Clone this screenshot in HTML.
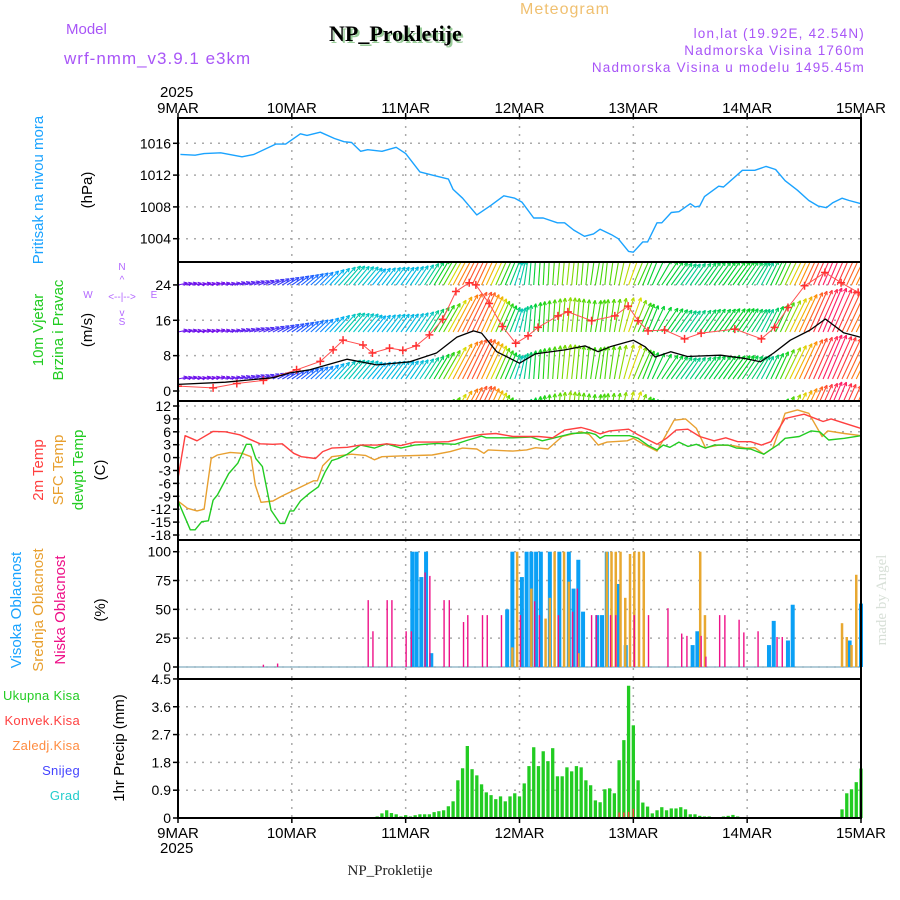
<!DOCTYPE html>
<html><head><meta charset="utf-8"><title>Meteogram NP_Prokletije</title>
<style>
html,body{margin:0;padding:0;background:#fff;}
svg{display:block;font-family:"Liberation Sans",sans-serif;}
</style></head>
<body>
<svg id="chart" width="900" height="900" viewBox="0 0 900 900" xmlns="http://www.w3.org/2000/svg">
<defs>
<clipPath id="clipWind"><rect x="178" y="263" width="683" height="137"/></clipPath>
</defs>
<rect width="900" height="900" fill="#fff"/>
<g font-family="Liberation Sans, sans-serif">
<text x="66" y="34" font-size="15" fill="#a855f7">Model</text>
<text x="64" y="64" font-size="17" fill="#a855f7" letter-spacing="1">wrf-nmm_v3.9.1 e3km</text>
<text x="331" y="43" font-family="Liberation Serif, serif" font-weight="bold" font-size="22" fill="#9c9">NP_Prokletije</text>
<text x="329" y="41" font-family="Liberation Serif, serif" font-weight="bold" font-size="22" fill="#000">NP_Prokletije</text>
<text x="520" y="14" font-size="16" fill="#f0c070" letter-spacing="1">Meteogram</text>
<text x="865" y="38" font-size="13.5" fill="#a855f7" text-anchor="end" letter-spacing="1.2">lon,lat (19.92E, 42.54N)</text>
<text x="865" y="55" font-size="13.5" fill="#a855f7" text-anchor="end" letter-spacing="1.2">Nadmorska Visina 1760m</text>
<text x="865" y="72" font-size="13.5" fill="#a855f7" text-anchor="end" letter-spacing="1.2">Nadmorska Visina u modelu 1495.45m</text>
</g>
<g id="grid"></g>
<g id="marks"></g>
<g id="frames"></g>
<g id="labels" font-size="14" fill="#000"></g>
<g font-size="15">
<text transform="translate(43,190) rotate(-90)" text-anchor="middle" fill="#1aa3ff">Pritisak na nivou mora</text>
<text transform="translate(92,190) rotate(-90)" text-anchor="middle" fill="#000">(hPa)</text>
<text transform="translate(43,330) rotate(-90)" text-anchor="middle" fill="#22cc22">10m Vjetar</text>
<text transform="translate(63,330) rotate(-90)" text-anchor="middle" fill="#22cc22">Brzina i Pravac</text>
<text transform="translate(92,330) rotate(-90)" text-anchor="middle" fill="#000">(m/s)</text>
<g font-size="10" fill="#b266ff" text-anchor="middle">
<text x="122" y="270">N</text><text x="122" y="283">^</text><text x="122" y="300">&lt;--|--&gt;</text><text x="122" y="316">v</text><text x="122" y="325">S</text>
<text x="88" y="298">W</text><text x="154" y="298">E</text>
</g>
<text transform="translate(43,470) rotate(-90)" text-anchor="middle" fill="#ff4040">2m Temp</text>
<text transform="translate(63,470) rotate(-90)" text-anchor="middle" fill="#e8a030">SFC Temp</text>
<text transform="translate(83,470) rotate(-90)" text-anchor="middle" fill="#22cc22">dewpt Temp</text>
<text transform="translate(105,470) rotate(-90)" text-anchor="middle" fill="#000">(C)</text>
<text transform="translate(21,610) rotate(-90)" text-anchor="middle" fill="#1aa3ff">Visoka Oblacnost</text>
<text transform="translate(43,610) rotate(-90)" text-anchor="middle" fill="#e8a030">Srednja Oblacnost</text>
<text transform="translate(65,610) rotate(-90)" text-anchor="middle" fill="#ee1188">Niska Oblacnost</text>
<text transform="translate(105,610) rotate(-90)" text-anchor="middle" fill="#000">(%)</text>
<g font-size="13" letter-spacing="0.3">
<text x="80" y="700" text-anchor="end" fill="#22cc22">Ukupna Kisa</text>
<text x="80" y="725" text-anchor="end" fill="#ff4040">Konvek.Kisa</text>
<text x="80" y="750" text-anchor="end" fill="#ff8c40">Zaledj.Kisa</text>
<text x="80" y="775" text-anchor="end" fill="#4444ff">Snijeg</text>
<text x="80" y="800" text-anchor="end" fill="#22cccc">Grad</text>
</g>
<text transform="translate(124,748) rotate(-90)" text-anchor="middle" fill="#000">1hr Precip (mm)</text>
</g>
<text transform="translate(886,600) rotate(-90)" text-anchor="middle" font-family="Liberation Serif, serif" font-size="15" fill="#d8e0d8">made by Angel</text>
<text x="390" y="875" text-anchor="middle" font-family="Liberation Serif, serif" font-size="15" fill="#222">NP_Prokletije</text>

<script>
// ---------- DATA ----------
const days = ["9MAR","10MAR","11MAR","12MAR","13MAR","14MAR","15MAR"];
const pressureTicks = [1016,1012,1008,1004];
const windTicks = [0,8,16,24];
const tempTicks = [12,9,6,3,0,-3,-6,-9,-12,-15,-18];
const cloudTicks = [0,25,50,75,100];
const precipTicks = [0,0.9,1.8,2.7,3.6,4.5];

const pressureHours = [0.5,3.6,5.5,9,13.5,16,20.6,22.7,25.8,27.2,30,33,35,36.6,38.5,40,43,46,48,51,53.6,57,58,60,63,66,68.7,71,72.5,75,77,80,81.5,83.4,85.7,87.6,89,91.4,92.8,95,96,98,99,101,102,104,105.6,108,109,110,111,114,115,119,121.6,124,126,128,130.6,133,135,136.7,138,140,141.5,144];
const pressure = [1014.6,1014.5,1014.7,1014.8,1014.3,1014.6,1015.9,1015.9,1017.2,1017.0,1017.4,1016.6,1016.2,1016.1,1015.0,1015.2,1015.0,1015.5,1014.7,1012.4,1012.0,1011.5,1010.2,1009.1,1007.0,1008.2,1009.4,1009.1,1008.6,1006.6,1006.6,1006.0,1006.0,1005.1,1004.3,1004.6,1005.2,1004.5,1004.0,1002.4,1002.3,1003.6,1003.6,1006.0,1006.0,1007.3,1007.4,1008.4,1008.0,1008.1,1009.3,1010.6,1010.5,1012.6,1012.6,1013.1,1012.7,1011.3,1010.1,1008.8,1008.1,1007.9,1008.5,1009.1,1008.8,1008.4];

const speedHours = [0,10,20,23.6,27.8,35.6,41.9,48.9,54.5,58.8,62.3,64,67.2,72,75.3,81.6,85.8,88.6,91.1,96,98.5,100.6,103.9,107.4,114.4,119.3,122.8,125.6,129.1,133.3,136.5,140.3,143.8];
const windSpeed = [1.5,2,3,4.1,4.8,7.2,5.9,6.6,8.6,12.2,13.6,13.1,8.9,6.3,8.4,9.3,10.2,8.9,10.0,11.5,10.0,7.7,8.9,7.8,8.1,7.4,6.6,8.6,11.5,13.8,16.3,13.2,12.2];

const gustHours = [0,7.4,12.4,18,25,30,32.7,34.8,39,41,44.6,47.4,50.2,53,55.8,58.6,61.4,62.8,65.6,68.4,71.2,73.8,75.9,80.1,82.2,87.2,92.1,94.9,97,99.1,102.6,106.8,110.3,117.4,123,125.8,128.6,132.1,136.4,139.8,143.4];
const windGust = [1.1,0.7,1.7,2.4,4.8,6.7,9.3,11.5,10.4,8.6,9.7,9.2,10.2,12.7,16.2,22.5,24.5,24.0,19.8,14.6,10.8,12.5,14.4,17.0,17.9,15.9,17.0,19.2,15.9,13.6,13.8,11.8,13.1,14.0,11.8,14.4,18.9,23.8,26.8,24.5,22.3];

// arrow direction (degrees clockwise from up), hourly h0..h144
const windDir = [78,80,78,80,82,78,80,78,76,78,80,78,76,75,74,72,70,70,68,66,64,62,60,58,56,54,52,50,48,46,45,44,43,42,42,41,40,40,40,40,40,39,38,38,38,37,36,36,35,35,34,34,33,32,31,30,30,29,28,28,27,26,26,25,25,25,25,24,24,23,22,18,14,8,5,4,4,3,3,4,5,5,6,6,5,5,6,8,10,8,6,8,10,12,16,20,22,24,22,22,25,30,34,35,36,36,36,35,35,36,36,35,35,36,36,35,36,36,35,34,34,33,30,28,27,26,25,25,26,26,26,25,25,24,24,24,23,23,24,24,25,25,26,26,27];

const tempHours2m = [0,1.5,4,7.4,10,13,17.3,20,22,24.4,26,29,30.5,32.4,35.7,38.5,42,44,47,50,54.6,57,60.7,64,67,70.6,73.5,76,79,81.5,85,87,89,91,95,97,101,103,105,107.5,110,113,115.5,118,120.7,123,125,128,132,136,137.7,140.5,144];
const temp2m = [-4.8,5.1,3.9,6.1,6.0,5.3,3.2,3.1,3.2,1.0,0.2,-0.2,1.4,2.2,2.4,2.9,2.9,3.2,2.8,3.6,3.6,3.7,4.7,5.4,5.6,4.9,4.9,4.9,4.6,6.4,7.0,6.4,5.5,6.2,6.6,5.3,3.1,4.5,6.4,6.6,4.9,3.9,4.6,3.7,3.7,2.9,3.7,9.1,10.1,8.4,9.0,8.0,6.8];

const tempHoursSfc = [0,2,4,5.5,7,8.3,11,13.5,15.4,16.3,17.5,20,22,25,26.7,28.6,29.4,30.5,32.4,36.6,39.5,41.4,43,47,53.6,57.4,60,63,64.5,65.4,70.6,73.5,75.4,78,81,85,86.7,88.6,90.5,94.7,96,98.5,101,104.6,107,109.3,111.2,114,117,119.7,121.6,123.5,125.4,128,130.6,133,135.8,137,140.5,144];
const tempSfc = [-10.1,-11.8,-12.4,-12.0,-0.2,0.6,1.2,1.0,0.2,-6.4,-10.4,-10.1,-8.9,-7.3,-6.4,-5.4,-5.4,-1.9,0.2,0.8,0.5,-0.5,0.2,0.4,0.6,1.4,2.2,2.0,1.0,1.8,1.5,1.8,2.3,2.0,4.9,6.0,5.4,2.9,3.6,3.9,4.5,2.9,1.5,8.7,9.0,6.8,2.3,2.9,2.8,2.2,2.3,0.8,2.2,10.3,11.1,10.3,4.9,6.2,5.6,5.1];

const tempHoursDew = [0,2.6,3.6,5,6.4,7.4,8.3,10.7,12.6,14.4,15.4,16.4,17.8,19.6,21.5,22.5,23.6,24.4,25.8,27.7,29.6,31,32.4,33.8,35.7,38.5,41.4,44,47,49.9,54.6,58.4,61.2,64,65,70.6,74.4,76.8,79,83,86.7,88,89,90,95.2,97,99,101,102.3,103.7,105.6,107.5,109.3,111.2,113,116,117.8,120.7,123.5,126.4,128,131,133.5,135.3,137.2,140.5,144];
const tempDew = [-10.1,-16.8,-16.8,-14.9,-14.7,-9.9,-8.7,-3.7,-1.3,3.1,3.1,-0.2,-2.1,-12.2,-15.3,-15.3,-12.4,-12.4,-10.1,-8.3,-6.8,-3.4,-0.7,-0.2,0.8,2.9,2.2,3.2,2.2,2.9,3.3,3.1,4.1,5.0,4.6,4.6,4.8,3.9,4.5,5.6,5.8,5.4,4.5,5.1,5.1,4.5,2.9,1.8,2.9,2.4,3.6,2.6,3.1,2.2,2.9,2.9,2.2,2.0,0.8,2.9,4.5,4.9,6.2,6.0,4.1,4.5,5.1];

const highCloudHours = [49.4,50.3,51.3,52.3,53.4,69.4,70.5,72.5,73.5,74.5,75.5,76.5,78.4,80.4,82.4,83.4,84.4,85.4,88.4,89.4,90.4,92.7,94.4,108.5,109.5,124.6,125.6,128.6,129.6,141.6,144];
const highCloud = [100,100,78,100,12,50,100,78,100,100,100,100,100,100,100,68,93,48,45,45,100,72,19,19,31,19,40,23,54,23,55];
const midCloudHours = [70.5,71.5,74.5,77.5,78.4,79.4,81.4,82.4,84.4,90.4,91.4,92.3,93.3,94.3,95.3,96.2,97.2,98.2,110.1,111.1,140,141,142,143];
const midCloud = [17,100,68,42,60,100,100,74,12,100,100,100,100,60,98,100,100,100,100,45,38,26,19,80];
const lowCloudHours = [18,21,40.1,41.1,44.1,45.1,48.1,49.2,52.1,53.1,56.1,57.2,60.2,61.1,64.2,65.2,68.2,72.2,75.2,76.2,80.2,83.2,84.2,87.2,88.2,91.2,92.3,96.2,99.2,103.3,106.2,107.3,110.3,111.3,114.2,115.3,118.3,119.3,122.3,126.3,127.4];
const lowCloud = [2,3,58,31,58,58,31,31,82,79,58,58,39,45,45,45,45,45,57,45,45,48,68,45,45,45,45,45,45,51,29,27,27,9,45,45,41,30,31,26,26];

const precipHours = [42,43,44,45,46,47,48,49,50,51,52,53,54,55,56,57,58,59,60,61,62,63,64,65,66,67,68,69,70,71,72,73,74,75,76,77,78,79,80,81,82,83,84,85,86,87,88,89,90,91,92,93,94,95,96,97,98,99,100,101,102,103,104,105,106,107,108,109,110,111,112,115,116,117,118,140,141,142,143,144];
const precipTotal = [0.05,0.15,0.25,0.16,0.12,0.05,0.09,0.05,0.09,0.12,0.12,0.12,0.19,0.22,0.25,0.38,0.54,1.22,1.61,2.33,1.58,1.38,1.09,0.83,0.74,0.61,0.70,0.54,0.70,0.80,0.70,1.12,1.68,2.29,1.68,2.16,1.84,2.26,1.35,1.35,1.64,1.51,1.68,1.64,1.22,1.06,0.57,0.51,0.93,0.96,0.80,1.87,2.52,4.28,3.0,1.22,0.50,0.37,0.15,0.25,0.35,0.25,0.31,0.31,0.35,0.28,0.12,0.12,0.07,0.05,0.05,0.05,0.07,0.10,0.05,0.28,0.80,0.93,1.16,1.60];
const convHours = [93,94,95,96];
const convPrecip = [0.18,0.18,0.2,0.3];

// ---------- AXES ----------
const X0 = 178, X1 = 861;
const NS = "http://www.w3.org/2000/svg";
const xOf = h => X0 + h * (X1 - X0) / 144;
const yP = p => 143.3 + (1016 - p) * 7.95;
const yW = v => 391 - v * 4.42;
const yT = t => 406 + (12 - t) * 4.3;
const yC = c => 667 - c * 1.153;
const yR = r => 818 - r * 30.9;
const panels = [[118,262],[262,401],[401,540],[540,679],[679,818]];

function el(tag, attrs, parent) {
  const e = document.createElementNS(NS, tag);
  for (const k in attrs) e.setAttribute(k, attrs[k]);
  parent.appendChild(e);
  return e;
}
const grid = document.getElementById('grid');
const marks = document.getElementById('marks');
const frames = document.getElementById('frames');
const labels = document.getElementById('labels');

days.forEach((d, i) => {
  const x = xOf(i * 24);
  panels.forEach(([a, b]) => {
    if (i > 0 && i < 6) {
      const l = el('line', {x1:x, y1:a, x2:x, y2:b, stroke:'#aaa', 'stroke-width':1.5, 'stroke-dasharray':'2,6'}, grid);
      
      
    }
  });
  const t = el('text', {x:x, y:113, 'text-anchor':'middle', 'font-size':15}, labels);
  
  
  t.textContent = d;
  const b = el('text', {x:x, y:838, 'text-anchor':'middle', 'font-size':15}, labels);
  
  
  b.textContent = d;
  [118, 818].forEach(yy => {
    const tk = el('line', {x1:x, y1:yy, x2:x, y2:yy + (yy === 118 ? -5 : 5), stroke:'#000', 'stroke-width':1.5}, frames);
    
    
  });
});
[[160,97],[160,853]].forEach(([x,y]) => {
  const t = el('text', {x:x, y:y, 'font-size':15}, labels);
  
  
  t.textContent = '2025';
});

function yTicks(ticks, fy, name, fmt) {
  ticks.forEach(v => {
    const y = fy(v);
    const g = el('line', {x1:X0, y1:y, x2:X1, y2:y, stroke:'#aaa', 'stroke-width':1.5, 'stroke-dasharray':'2,6'}, grid);
    
    
    const tk = el('line', {x1:X0 - 5, y1:y, x2:X0, y2:y, stroke:'#000', 'stroke-width':1.5}, frames);
    
    
    const t = el('text', {x:X0 - 7, y:y + 5, 'text-anchor':'end'}, labels);
    
    
    t.textContent = fmt ? fmt(v) : v;
  });
}
yTicks(pressureTicks, yP, 'pressure-axis');
yTicks(windTicks, yW, 'wind-axis');
yTicks(tempTicks, yT, 'temp-axis');
yTicks(cloudTicks, yC, 'cloud-axis');
yTicks(precipTicks, yR, 'precip-axis', v => v === 0 ? '0' : v.toFixed(1));

function line(hours, vals, fy, color, name, parent, w) {
  const pts = hours.map((h, i) => xOf(h).toFixed(1) + ',' + fy(vals[i]).toFixed(1)).join(' ');
  const p = el('polyline', {points:pts, fill:'none', stroke:color, 'stroke-width':w || 1.4, 'stroke-linejoin':'round'}, parent || marks);
  
  
  return p;
}
function interp(hs, vs, h) {
  if (h <= hs[0]) return vs[0];
  for (let i = 1; i < hs.length; i++) if (h <= hs[i]) {
    const f = (h - hs[i-1]) / (hs[i] - hs[i-1]);
    return vs[i-1] + f * (vs[i] - vs[i-1]);
  }
  return vs[vs.length - 1];
}

line(pressureHours, pressure, yP, '#1aa3ff', 'pressure-line');

const stops = [[0,[128,0,230]],[5,[30,90,255]],[8,[0,170,255]],[11,[0,200,190]],[14,[0,210,30]],[17,[90,215,0]],[19,[220,220,0]],[22,[255,150,0]],[25,[255,60,60]],[28,[255,0,140]]];
function gustColor(g) {
  for (let i = 1; i < stops.length; i++) if (g <= stops[i][0]) {
    const f = (g - stops[i-1][0]) / (stops[i][0] - stops[i-1][0]);
    const c = stops[i-1][1].map((v, k) => Math.round(v + f * (stops[i][1][k] - v)));
    return 'rgb(' + c.join(',') + ')';
  }
  return 'rgb(255,0,140)';
}
const windG = el('g', {'clip-path':'url(#clipWind)'}, marks);


[285, 332, 379, 426].forEach(base => {
  windDir.forEach((d, h) => {
    const g = interp(gustHours, windGust, h);
    const L = 8 + 1.5 * g;
    const r = d * Math.PI / 180;
    const x1 = xOf(h), y1 = base;
    const x2 = x1 + L * Math.sin(r), y2 = y1 - L * Math.cos(r);
    const c = gustColor(g);
    const a = el('line', {x1:x1, y1:y1, x2:x2, y2:y2, stroke:c, 'stroke-width':1.1}, windG);
    
    
    const hl = 4;
    [r + 2.7, r - 2.7].forEach(ar => {
      const hd = el('line', {x1:x2, y1:y2, x2:x2 + hl * Math.sin(ar), y2:y2 - hl * Math.cos(ar), stroke:c, 'stroke-width':1.1}, windG);
      
      
    });
  });
});
line(gustHours, windGust, yW, '#ff5050', 'wind-gust-line', windG, 1);
gustHours.forEach((h, i) => {
  const x = xOf(h), y = yW(windGust[i]);
  const p = el('path', {d:`M${x-4},${y}H${x+4}M${x},${y-4}V${y+4}`, stroke:'#ff3030', 'stroke-width':1.5}, windG);
  
  
});
line(speedHours, windSpeed, yW, '#000', 'wind-speed-line', windG, 1.3);

line(tempHoursSfc, tempSfc, yT, '#e8a030', 'sfc-temp-line');
line(tempHoursDew, tempDew, yT, '#22cc22', 'dewpoint-line');
line(tempHours2m, temp2m, yT, '#ff4040', '2m-temp-line');

const cb = el('line', {x1:X0, y1:yC(0), x2:X1, y2:yC(0), stroke:'#9bc', 'stroke-width':1.5}, marks);


function bars(hours, vals, fy, w, color, name) {
  hours.forEach((h, i) => {
    const x = xOf(h), y = fy(vals[i]), y0 = fy(0);
    const r = el('rect', {x:x - w/2, y:y, width:w, height:Math.max(0, y0 - y), fill:color}, marks);
    
    
  });
}
bars(highCloudHours, highCloud, yC, 4, '#0aa0f5', 'high-cloud-bar');
bars(midCloudHours, midCloud, yC, 2.5, '#e8a830', 'mid-cloud-bar');
bars(lowCloudHours, lowCloud, yC, 1.4, '#ee1188', 'low-cloud-bar');

bars(precipHours, precipTotal, yR, 3.3, '#22cc22', 'precip-bar');
bars(convHours, convPrecip, yR, 1.5, '#ff4040', 'convective-precip-bar');

panels.forEach(([a, b], i) => {
  const r = el('rect', {x:X0, y:a, width:X1 - X0, height:b - a, fill:'none', stroke:'#000', 'stroke-width':2}, frames);
  
  
});
</script>
</svg>
</body></html>
